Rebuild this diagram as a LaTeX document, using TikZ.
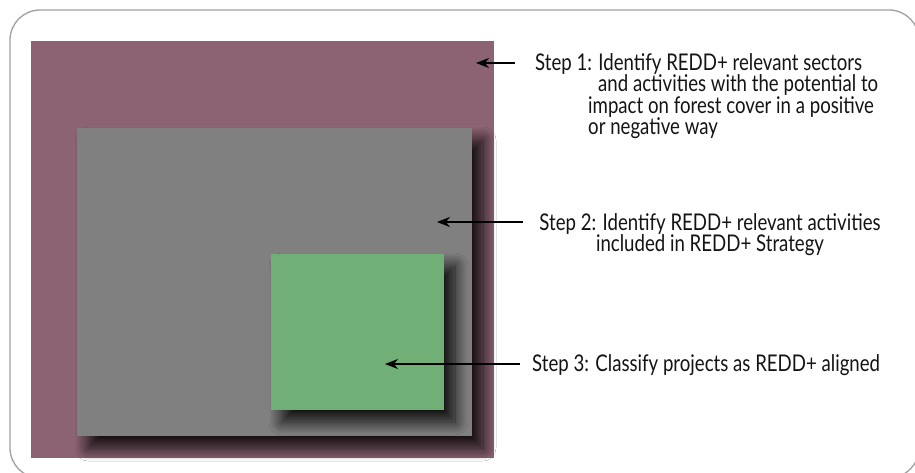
\documentclass[tikz,border=0pt]{standalone}
\usepackage{fontspec}
\setmainfont{Lato}[FakeStretch=0.81]
\usetikzlibrary{shadows.blur,arrows.meta}
\definecolor{maroon}{RGB}{139,99,115}
\definecolor{midgray}{RGB}{128,128,128}
\definecolor{leaf}{RGB}{112,176,118}
\definecolor{framec}{RGB}{160,160,160}
\tikzset{
  boxshadow/.style={blur shadow={shadow xshift=11pt, shadow yshift=-12pt, shadow blur radius=13pt, shadow blur steps=24, shadow opacity=88}},
  pointer/.style={line width=1.8pt, -{Stealth[length=13pt,width=10pt]}},
  steptext/.style={inner sep=0pt, font=\fontsize{23}{21.5}\selectfont, text=black!92}
}
\begin{document}
\begin{tikzpicture}[x=1pt,y=-1pt]
\useasboundingbox (0,0) rectangle (915,473);
\clip (0,0) rectangle (915,473);
\fill[white] (0,0) rectangle (915,473);
\draw[framec, line width=1.3pt, rounded corners=30pt] (10,10) rectangle (919,478);
% boxes
\fill[maroon] (31,41) rectangle (494,458);
\fill[midgray, boxshadow] (77,128) rectangle (472,436);
\fill[leaf, boxshadow] (271,254) rectangle (444,410);
% texts
\node[steptext, anchor=north west, align=left] (st1) at (535,53)
  {Step 1: Identify REDD+ relevant sectors\\
   \hspace*{63pt}and activities with the potential to\\
   \hspace*{53pt}impact on forest cover in a positive\\
   \hspace*{53pt}or negative way};
\node[steptext, anchor=north, align=center] (st2) at (710,213)
  {Step 2: Identify REDD+ relevant activities\\
   included in REDD+ Strategy};
\node[steptext, anchor=north west] (st3) at (532,354)
  {Step 3: Classify projects as REDD+ aligned};
% arrows
\coordinate (s1) at (515,63);
\coordinate (t1) at (476,63);
\coordinate (s2) at (523,222);
\coordinate (t2) at (437,222);
\coordinate (s3) at (520,364);
\coordinate (t3) at (385,364);
\draw[pointer] (s1) -- (t1);
\draw[pointer] (s2) -- (t2);
\draw[pointer] (s3) -- (t3);
\end{tikzpicture}
\end{document}
